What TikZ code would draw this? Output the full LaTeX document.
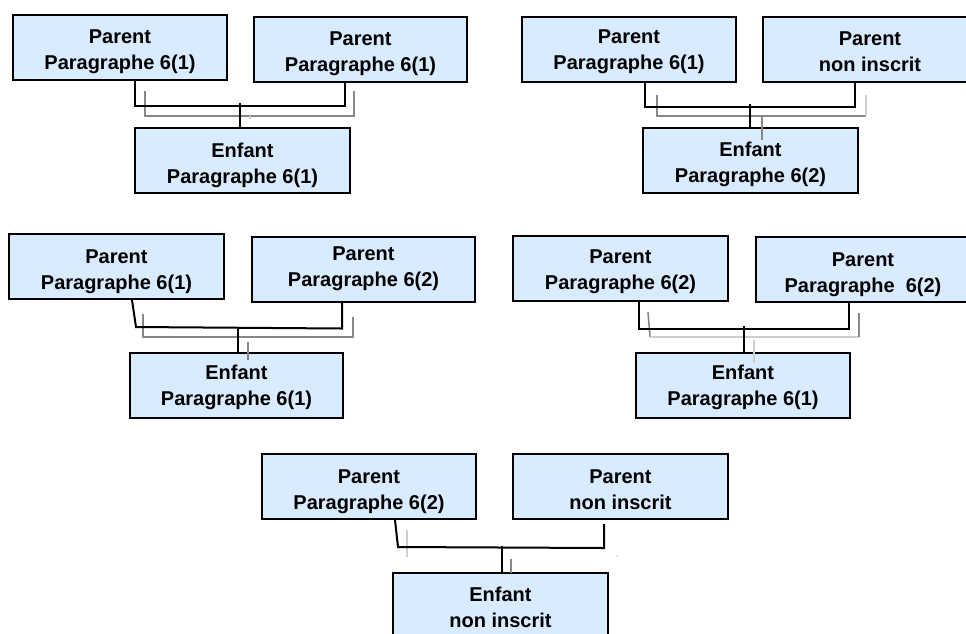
\documentclass[tikz,border=0pt]{standalone}
\usepackage{fontspec}
\setmainfont{Liberation Sans}
\usetikzlibrary{calc}
\definecolor{boxfill}{RGB}{217,235,255}
\definecolor{shadeA}{RGB}{135,135,135}
\definecolor{shadeB}{RGB}{205,205,205}
\newcommand\tsh[1]{\rule{0pt}{\dimexpr 10.8pt+#1pt*3/2\relax}}
\tikzset{
  box/.style={draw=black, line width=1.5pt, fill=boxfill, align=center, inner sep=0pt,
    font=\fontsize{15}{19.5}\selectfont\bfseries, minimum height=48.75pt},
  w/.style={minimum width=#1*0.75pt},
  conn/.style={draw=black, line width=1.5pt},
  shA/.style={draw=shadeA, line width=1.2pt},
  shB/.style={draw=shadeB, line width=1.2pt}
}
\begin{document}
\begin{tikzpicture}[x=0.75pt,y=-0.75pt]
\useasboundingbox[fill=white] (0,0) rectangle (966,633);
% ---------- group 1 ----------
\node[box,w=214] (g1a) at (120,47) {\tsh{4}Parent\\Paragraphe 6(1)};
\node[box,w=213] (g1b) at (360.5,49) {\tsh{4}Parent\\Paragraphe 6(1)};
\node[box,w=215] (g1c) at (242.5,160.5) {\tsh{4.5}Enfant\\Paragraphe 6(1)};
\draw[shA] (145,91) |- (354,116) -- (354,91);
\draw[shB] (250,116) -- (250,119);
\draw[conn] ($(g1a.south west)+(123,0)$) |- ($(g1b.south west)+(92,23)$) -- ($(g1b.south west)+(92,0)$);
\draw[conn] ($(g1c.north)+(-2.5,0)$) -- ++(0,-24);
% ---------- group 2 ----------
\node[box,w=214] (g2a) at (629,49) {\tsh{2.5}Parent\\Paragraphe 6(1)};
\node[box,w=214] (g2b) at (870,49) {\tsh{2}Parent\\non inscrit};
\node[box,w=215] (g2c) at (750.5,160.5) {\tsh{4}Enfant\\Paragraphe 6(2)};
\draw[shA] (657,95) |- (866,116);
\draw[shB] (866,116) -- (866,95);
\draw[conn] ($(g2a.south west)+(124,0)$) |- ($(g2b.south west)+(93,24)$) -- ($(g2b.south west)+(93,0)$);
\draw[conn] ($(g2c.north)+(-0.5,0)$) -- ++(0,-23);
\draw[shA] (762,116) -- (762,140);
% ---------- group 3 ----------
\node[box,w=215] (g3a) at (116.5,266.5) {\tsh{4.5}Parent\\Paragraphe 6(1)};
\node[box,w=223] (g3b) at (363.5,269) {Parent\\Paragraphe 6(2)};
\node[box,w=213] (g3c) at (236.5,385) {\tsh{2.5}Enfant\\Paragraphe 6(1)};
\draw[shA] (143,314) |- (353,337) -- (353,317);
\draw[conn] ($(g3a.south west)+(124,0)$) -- (136,327) -- ($(g3b.south west)+(91,26)$) -- ($(g3b.south west)+(91,0)$);
\draw[conn] ($(g3c.north)+(1.5,0)$) -- ++(0,-23);
\draw[shA] (248,342) -- (248,360);
% ---------- group 4 ----------
\node[box,w=215] (g4a) at (620.5,268.5) {\tsh{3}Parent\\Paragraphe 6(2)};
\node[box,w=214] (g4b) at (863,269) {\tsh{5}Parent\\Paragraphe\ \ 6(2)};
\node[box,w=214] (g4c) at (743,385) {\tsh{2}Enfant\\Paragraphe 6(1)};
\draw[shA] (648,312) -- (650,337);
\draw[shB] (650,337) -- (859,337);
\draw[shA] (859,313) -- (859,337);
\draw[conn] ($(g4a.south west)+(127,0)$) |- ($(g4b.south west)+(94,26)$) -- ($(g4b.south west)+(94,0)$);
\draw[conn] ($(g4c.north)+(1,0)$) -- ++(0,-26);
\draw[shB] (754,340) -- (754,363);
% ---------- group 5 ----------
\node[box,w=214] (g5a) at (369,486.5) {\tsh{4.5}Parent\\Paragraphe 6(2)};
\node[box,w=215] (g5b) at (620.5,486.5) {\tsh{2.5}Parent\\non inscrit};
\node[box,w=215] (g5c) at (500.5,605.5) {\tsh{2}Enfant\\non inscrit};
\draw[shB] (407,530) -- (407,557);
\draw[conn] ($(g5a.south west)+(134,0)$) -- (398,547) -- ($(g5b.south west)+(92,28)$) -- ($(g5b.south west)+(92,4)$);
\draw[conn] ($(g5c.north)+(1.5,0)$) -- ++(0,-26);
\draw[shA] (511,559) -- (511,573);
\fill[shadeA] (617,556) circle (0.7);
\end{tikzpicture}
\end{document}
